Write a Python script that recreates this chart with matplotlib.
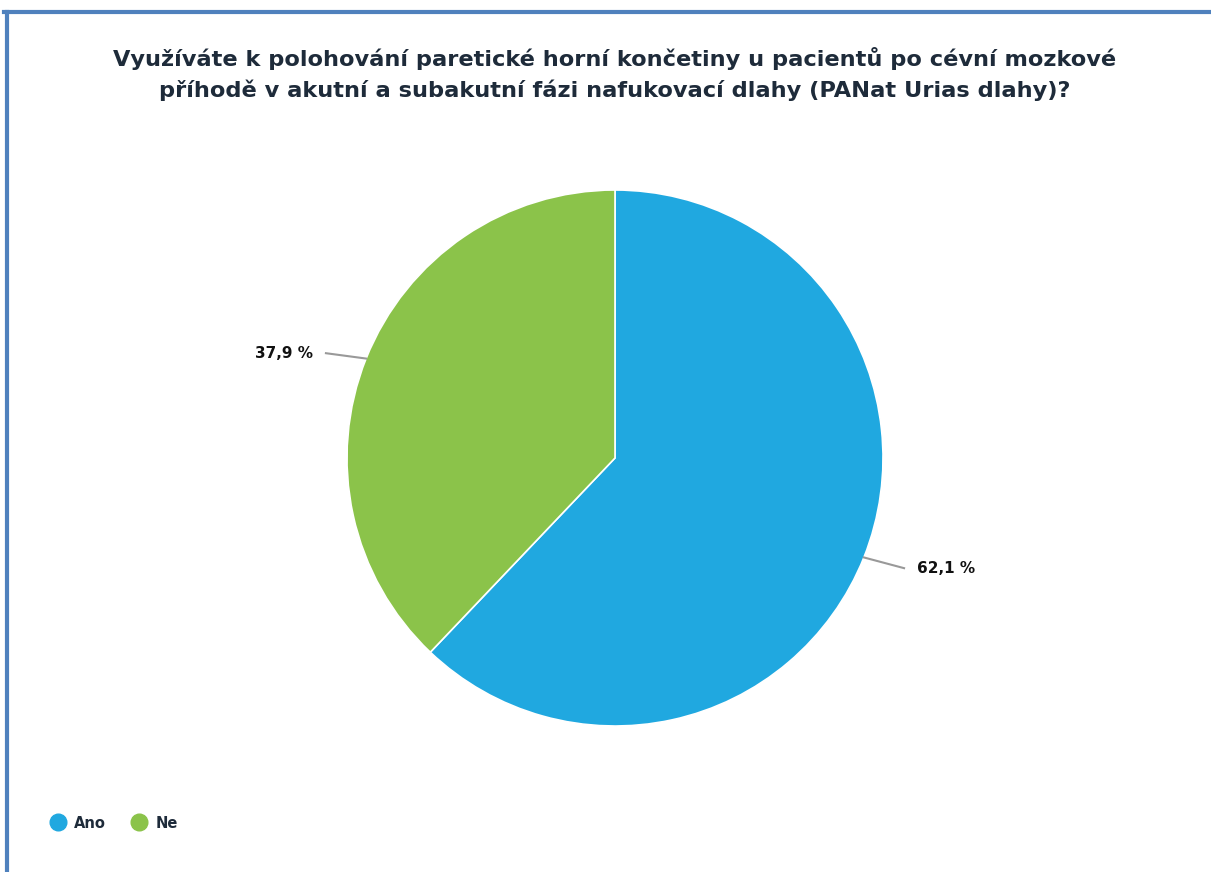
"""
Pie chart: use of inflatable splints (PANat Urias) for positioning the paretic
upper limb after stroke.
"""

import numpy as np
import matplotlib
matplotlib.use('Agg')
import matplotlib.pyplot as plt
from matplotlib.lines import Line2D

labels = ['Ano', 'Ne']
values = [62.1, 37.9]
colors = ['#20A8E0', '#8BC34A']
title = ('Využíváte k polohování paretické horní končetiny u pacientů po cévní mozkové\n'
         'příhodě v akutní a subakutní fázi nafukovací dlahy (PANat Urias dlahy)?')

W, H = 1211, 872
text_color = '#1E2B3A'


def main():
    fig = plt.figure(figsize=(W / 100, H / 100), dpi=100)

    # blue frame on the top and left edges
    fig.add_artist(Line2D([4 / W, 1], [1 - 12 / H, 1 - 12 / H], color='#4F81BD', lw=3))
    fig.add_artist(Line2D([7 / W, 7 / W], [0, 1 - 12 / H], color='#4F81BD', lw=3))

    fig.text(615 / W, 1 - 74 / H, title, ha='center', va='center', fontsize=16.2,
             fontweight='bold', color=text_color, linespacing=1.5)

    # pie area: center (615, 458), radius 268 px
    r = 268
    ax = fig.add_axes([(615 - r) / W, (H - 458 - r) / H, 2 * r / W, 2 * r / H])
    wedges, _ = ax.pie(values, colors=colors, startangle=90, counterclock=False,
                       wedgeprops=dict(edgecolor='white', linewidth=1.2))
    ax.set_xlim(-1, 1)
    ax.set_ylim(-1, 1)
    ax.set_aspect('equal')
    ax.axis('off')

    # data labels with connectors
    for w, v in zip(wedges, values):
        ang = np.deg2rad((w.theta1 + w.theta2) / 2)
        x, y = np.cos(ang), np.sin(ang)
        side = 1 if x > 0 else -1
        lx = x + side * 0.15
        ly = y - 0.04 if side > 0 else y + 0.02
        ax.plot([x, lx], [y, ly], color='#999999', lw=1.5, clip_on=False)
        ax.text(lx + side * 0.05, ly, f'{v:.1f} %'.replace('.', ','),
                ha='left' if side > 0 else 'right', va='center',
                fontsize=11, fontweight='bold', color='#111111')

    # legend at the bottom left
    handles = [Line2D([], [], marker='o', ls='', markersize=12, color=c) for c in colors]
    fig.legend(handles, labels, loc='center left', bbox_to_anchor=(30 / W, 1 - 823 / H),
               ncol=2, frameon=False, handletextpad=0.1, columnspacing=1.3,
               prop=dict(size=10.5, weight='bold'), labelcolor=text_color)

    fig.savefig('out.png', dpi=100)


if __name__ == '__main__':
    main()
